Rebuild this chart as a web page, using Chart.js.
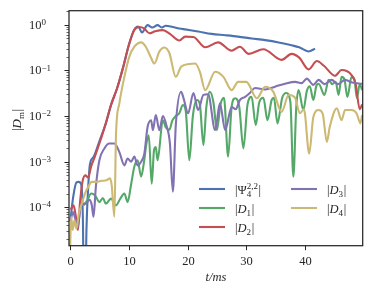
<!DOCTYPE html>
<html>
<head>
<meta charset="utf-8">
<script src="https://cdn.jsdelivr.net/npm/chart.js@4"></script>
<style>
  html, body { margin: 0; padding: 0; background: #fff; }
  #box { width: 374px; height: 297px; }
</style>
</head>
<body>
<div id="box"><canvas id="myChart"></canvas></div>
<script>
// t in ms, |D_m| values
var tPsi = [0.05,0.55,1.1,1.5,1.9,2.2,2.35,2.6,2.8,3.1,3.4,4.0,5.0,6.0,7.0,8.0,9.0,10.0,10.9,11.6,12.25,13.2,14.0,14.9,15.6,16.3,17.5,18.6,19.6,21.8,24.1,26.4,28.6,30.9,33.2,35.5,37.7,39.0,40.6,41.7];
var psi = [5.0e-5,1.7e-4,3.5e-4,3.6e-4,3.2e-4,5.0e-5,1e-6,1e-6,3.2e-5,2.8e-4,8.9e-4,1.26e-3,2.8e-3,6.3e-3,1.78e-2,4.0e-2,1.12e-1,3.55e-1,7.6e-1,9.1e-1,6.8e-1,9.8e-1,8.7e-1,9.8e-1,8.7e-1,9.5e-1,8.9e-1,8.3e-1,7.9e-1,7.1e-1,6.3e-1,5.9e-1,5.5e-1,5.0e-1,4.6e-1,4.1e-1,3.55e-1,3.2e-1,2.6e-1,3.0e-1];

var tD1 = [2.3,2.9,3.6,4.3,5.0,5.6,6.1,6.98,7.83,8.5,9.25,9.8,10.4,10.95,11.5,12.1,12.6,13.0,13.4,13.9,14.3,14.6,14.9,15.8,16.3,16.9,17.4,18.0,18.6,19.2,19.7,20.3,20.9,21.6,22.1,22.7,23.2,23.8,24.4,25.0,25.6,26.2,26.9,27.5,28.1,28.8,29.5,30.2,30.9,31.6,32.2,32.9,33.6,34.3,34.7,35.3,36.1,36.8,37.5,38.0,38.5,38.9,39.7,40.3,40.8,41.4,41.9,42.3,43.3,44.0,44.6,45.2,45.7,46.2,46.7,47.2,47.9,48.4,48.8,49.3,49.7];
var d1 = [1.1e-4,1.4e-4,2.0e-4,1.8e-4,1.3e-4,1.6e-4,1.2e-4,1.55e-4,1.1e-4,1.5e-4,2.0e-4,1.3e-4,3.2e-4,7.8e-4,1.07e-3,4.7e-4,1.0e-3,2.5e-3,3.8e-3,3.3e-4,1.8e-3,2.1e-3,1.07e-3,8.1e-3,5.6e-3,5.0e-3,7.9e-3,1.0e-2,1.15e-2,1.74e-2,1.26e-2,1.07e-3,1.0e-2,2.24e-2,1.78e-2,2.3e-3,1.58e-2,3.4e-2,2.0e-2,4.9e-3,1.78e-2,2.5e-2,1.29e-3,1.58e-2,2.45e-2,1.58e-2,1.95e-3,1.78e-2,2.63e-2,6.3e-3,2.0e-2,2.5e-2,8.1e-3,2.24e-2,2.5e-2,6.9e-3,2.5e-2,3.2e-2,2.0e-2,4.7e-4,1.58e-2,3.7e-2,1.35e-2,3.55e-2,4.5e-2,2.24e-2,4.5e-2,5.1e-2,2.9e-2,6.2e-2,5.0e-2,5.6e-2,2.9e-2,7.2e-2,6.3e-2,2.6e-2,7.2e-2,6.3e-2,2.5e-2,5.0e-2,3.7e-2];

var tD2 = [0.1,0.6,1.0,1.35,1.7,2.1,2.6,3.1,3.6,4.2,5.0,6.0,7.0,8.0,9.0,10.0,10.9,11.8,12.6,13.5,14.5,15.8,17.0,18.6,19.6,21.0,23.0,25.2,27.5,28.9,30.4,32.9,36.0,37.7,39.0,40.6,42.0,43.2,45.1,46.2,47.9,48.6,49.3,49.7];
var d2 = [8.9e-5,1.1e-4,6.3e-5,3.2e-5,1.26e-4,3.5e-4,5.0e-4,4.5e-4,7.9e-4,1.26e-3,2.5e-3,6.3e-3,1.78e-2,4.0e-2,1.12e-1,3.55e-1,7.6e-1,8.9e-1,8.3e-1,6.5e-1,7.2e-1,7.6e-1,6.3e-1,4.5e-1,5.5e-1,5.4e-1,3.2e-1,4.1e-1,2.7e-1,3.3e-1,2.3e-1,2.9e-1,1.7e-1,2.3e-1,1.9e-1,1.05e-1,1.6e-1,1.26e-1,7.6e-2,1.02e-1,7.9e-2,5.0e-2,1.4e-2,1.8e-2];

var tD3 = [0.1,0.5,0.9,1.3,1.9,2.7,3.3,3.7,4.0,4.4,5.0,5.85,6.7,7.55,8.4,9.25,9.8,10.4,10.95,11.5,12.1,12.65,13.2,13.8,14.1,14.6,15.2,15.8,16.4,17.0,17.5,18.0,18.9,19.3,20.1,21.0,21.8,22.7,23.5,24.7,25.5,26.4,27.5,28.2,28.9,29.8,30.6,31.5,33.2,34.9,36.6,38.3,39.4,40.3,41.4,42.3,43.3,44.5,45.6,46.8,48.0,49.7];
var d3 = [5.0e-5,7.9e-5,5.6e-5,3.7e-5,1.12e-4,1.2e-4,1.45e-4,1.12e-4,6.2e-5,2.8e-4,1.07e-3,1.95e-3,2.5e-3,2.5e-3,1.62e-3,8.3e-4,1.17e-3,1.0e-3,1.29e-3,8.3e-4,1.0e-3,1.5e-3,5.75e-3,8.1e-3,4.9e-3,1.05e-2,4.9e-3,1.0e-2,6.3e-3,2.5e-3,2.2e-4,6.3e-3,3.4e-2,2.5e-2,1.15e-2,3.2e-2,1.35e-2,2.9e-2,3.0e-2,4.9e-3,1.9e-2,4.9e-3,1.58e-2,1.41e-2,2.24e-2,2.63e-2,3.2e-2,4.1e-2,3.8e-2,4.4e-2,5.1e-2,5.6e-2,5.25e-2,6.6e-2,4.8e-2,6.2e-2,5.0e-2,6.2e-2,5.0e-2,6.2e-2,5.4e-2,5.1e-2];

var tD4 = [0.0,0.2,0.45,0.75,1.1,1.5,2.0,2.55,3.1,3.7,4.5,5.4,6.2,6.8,7.1,7.55,7.83,8.4,9.25,10.1,10.95,12.1,12.9,13.7,14.35,15.2,16.05,16.9,18.0,18.9,20.3,21.3,22.1,23.0,24.7,26.1,27.5,28.6,30.0,31.8,33.2,34.6,36.0,37.2,38.3,39.1,39.8,40.7,41.4,42.3,43.0,43.7,44.2,45.4,46.2,46.8,47.9,48.8,49.4,49.7];
var d4 = [1e-5,6.2e-5,3.2e-5,5.2e-5,3.4e-5,7.2e-5,1.2e-4,2.0e-4,2.8e-4,3.6e-4,3.6e-4,3.8e-4,3.9e-4,4.3e-4,3.0e-4,6.2e-5,4.0e-3,1.9e-2,7.2e-2,2.0e-1,3.3e-1,4.1e-1,3.3e-1,2.0e-1,1.41e-1,2.57e-1,3.16e-1,2.4e-1,7.2e-2,1.2e-1,1.38e-1,1.41e-1,9.3e-2,3.7e-2,9.3e-2,7.2e-2,3.7e-2,5.6e-2,5.6e-2,2.45e-2,4.37e-2,3.39e-2,1.23e-2,2.88e-2,2.51e-2,1.15e-2,1.41e-2,1.5e-3,9.5e-3,1.35e-2,1.12e-2,2.7e-3,5.8e-3,1.48e-2,8.1e-3,1.35e-2,1.35e-2,1.12e-2,6.9e-3,1.05e-2];

var xTicks = [0, 10, 20, 30, 40];
var yDecades = [1e-4, 1e-3, 1e-2, 1e-1, 1];
var yExp = ['\u22124', '\u22123', '\u22122', '\u22121', '0'];

var ink = '#262626';
var serif = '"Liberation Serif", "DejaVu Serif", serif';

function pts(t, v) {
  return t.map(function (x, i) { return { x: x, y: v[i] }; });
}

// draws text made of normal / italic pieces with sub- and superscripts
function mathText(ctx, x, y, parts, size, supUp, subDown) {
  ctx.textAlign = 'left';
  ctx.textBaseline = 'alphabetic';
  parts.forEach(function (p) {
    if (p.t) {
      ctx.font = (p.it ? 'italic ' : '') + size + 'px ' + serif;
      ctx.fillText(p.t, x, y);
      x += ctx.measureText(p.t).width;
    } else {
      ctx.font = Math.round(size * 0.72) + 'px ' + serif;
      var w = 0;
      if (p.sub) { ctx.fillText(p.sub, x, y + subDown); w = ctx.measureText(p.sub).width; }
      if (p.sup) { ctx.fillText(p.sup, x, y - supUp); w = Math.max(w, ctx.measureText(p.sup).width); }
      x += w + 0.6;
    }
  });
  return x;
}

var decor = {
  id: 'decor',
  afterDatasetsDraw: function (chart) {
    var ctx = chart.ctx, a = chart.chartArea;
    var xs = chart.scales.x, ys = chart.scales.y;
    ctx.save();
    ctx.strokeStyle = ink;
    ctx.fillStyle = ink;

    // frame
    ctx.lineWidth = 1.25;
    ctx.strokeRect(a.left, a.top, a.right - a.left, a.bottom - a.top);

    // x ticks + labels
    ctx.lineWidth = 1;
    ctx.font = '12.5px ' + serif;
    ctx.textAlign = 'center';
    ctx.textBaseline = 'alphabetic';
    xTicks.forEach(function (t) {
      var px = Math.round(xs.getPixelForValue(t)) + 0.5;
      ctx.beginPath();
      ctx.moveTo(px, a.bottom);
      ctx.lineTo(px, a.bottom + 4.5);
      ctx.stroke();
      ctx.fillText(String(t), px, 265);
    });

    // y ticks, major and minor
    for (var e = -5; e <= 0; e++) {
      for (var m = 1; m <= 9; m++) {
        var v = m * Math.pow(10, e);
        if (v < ys.min || v > ys.max) continue;
        var py = Math.round(ys.getPixelForValue(v)) + 0.5;
        ctx.lineWidth = m === 1 ? 1 : 0.7;
        ctx.beginPath();
        ctx.moveTo(a.left, py);
        ctx.lineTo(a.left - (m === 1 ? 4.5 : 2.5), py);
        ctx.stroke();
      }
    }
    yDecades.forEach(function (v, i) {
      var py = ys.getPixelForValue(v);
      mathText(ctx, 29, py + 4, [{ t: '10' }, { sup: yExp[i] }], 12.5, 3.8, 0);
    });

    // axis titles
    ctx.font = 'italic 12.5px ' + serif;
    ctx.textAlign = 'center';
    ctx.fillText('t/ms', (a.left + a.right) / 2, 281);
    ctx.save();
    ctx.translate(21, 131);
    ctx.rotate(-Math.PI / 2);
    mathText(ctx, 0, 0, [{ t: '|' }, { t: 'D', it: true }, { sub: 'm' }, { t: '|' }], 13, 0, 2.5);
    ctx.restore();

    // legend
    var rows = [
      { x: 199, y: 194, ds: 0, parts: [{ t: '|' }, { t: '\u03A8' }, { sub: '4', sup: '2,2' }, { t: '|' }] },
      { x: 199, y: 213, ds: 1, parts: [{ t: '|' }, { t: 'D', it: true }, { sub: '1' }, { t: '|' }] },
      { x: 199, y: 232, ds: 2, parts: [{ t: '|' }, { t: 'D', it: true }, { sub: '2' }, { t: '|' }] },
      { x: 291, y: 194, ds: 3, parts: [{ t: '|' }, { t: 'D', it: true }, { sub: '3' }, { t: '|' }] },
      { x: 291, y: 213, ds: 4, parts: [{ t: '|' }, { t: 'D', it: true }, { sub: '4' }, { t: '|' }] }
    ];
    rows.forEach(function (r) {
      ctx.strokeStyle = chart.data.datasets[r.ds].borderColor;
      ctx.lineWidth = 2.1;
      ctx.beginPath();
      ctx.moveTo(r.x, r.y - 5);
      ctx.lineTo(r.x + 26, r.y - 5);
      ctx.stroke();
      ctx.fillStyle = ink;
      mathText(ctx, r.x + 36, r.y, r.parts, 12.5, 5, 2.5);
    });
    ctx.restore();
  }
};

function line(label, data, color, order) {
  return {
    label: label,
    data: data,
    borderColor: color,
    backgroundColor: color,
    borderWidth: 2.1,
    pointRadius: 0,
    cubicInterpolationMode: 'monotone',
    fill: false,
    order: order
  };
}

new Chart(document.getElementById('myChart'), {
  type: 'line',
  data: {
    datasets: [
      line('|Psi_4^{2,2}|', pts(tPsi, psi), '#4C72B0', 4),
      line('|D_1|', pts(tD1, d1), '#55A868', 3),
      line('|D_2|', pts(tD2, d2), '#C44E52', 2),
      line('|D_3|', pts(tD3, d3), '#8172B2', 1),
      line('|D_4|', pts(tD4, d4), '#CCB974', 0)
    ]
  },
  options: {
    responsive: true,
    maintainAspectRatio: false,
    animation: false,
    layout: { padding: { left: 69, right: 11.3, top: 10.7, bottom: 51.3 } },
    scales: {
      x: { type: 'linear', min: -0.17, max: 49.8, display: false },
      y: { type: 'logarithmic', min: 1.44e-5, max: 2.03, display: false }
    },
    plugins: {
      legend: { display: false },
      tooltip: { enabled: false }
    }
  },
  plugins: [decor]
});
</script>
</body>
</html>
